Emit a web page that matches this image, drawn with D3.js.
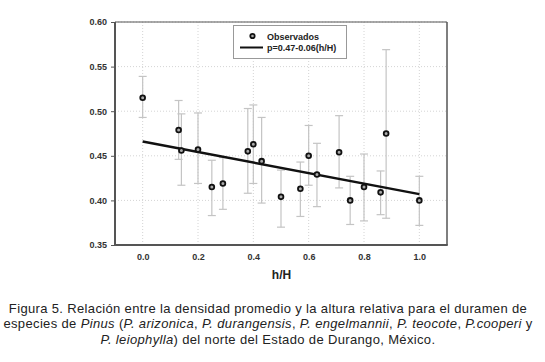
<!DOCTYPE html>
<html>
<head>
<meta charset="utf-8">
<script src="https://cdn.jsdelivr.net/npm/d3@7"></script>
<style>
  body { margin: 0; background: #fff; }
  svg { display: block; font-family: "Liberation Sans", Arial, sans-serif; }
</style>
</head>
<body>
<div id="chart"></div>
<script>
// observed points: relative height, mean density, error bar low / high
const hH = [0.0, 0.13, 0.14, 0.2, 0.25, 0.29, 0.38, 0.40, 0.43, 0.5, 0.57, 0.60, 0.63, 0.71, 0.75, 0.80, 0.86, 0.88, 1.0];
const density = [0.515, 0.479, 0.456, 0.457, 0.415, 0.419, 0.455, 0.463, 0.444, 0.404, 0.413, 0.450, 0.429, 0.454, 0.400, 0.415, 0.409, 0.475, 0.400];
const errLow = [0.493, 0.446, 0.417, 0.419, 0.383, 0.390, 0.408, 0.419, 0.397, 0.370, 0.382, 0.417, 0.393, 0.414, 0.373, 0.377, 0.384, 0.380, 0.372];
const errHigh = [0.539, 0.512, 0.497, 0.498, 0.445, 0.448, 0.503, 0.507, 0.493, 0.434, 0.443, 0.484, 0.464, 0.495, 0.427, 0.452, 0.433, 0.569, 0.427];

// fitted line p = 0.47 - 0.06(h/H), endpoints
const fitX = [0.0, 1.0];
const fitY = [0.466, 0.407];

const xTicks = [0.0, 0.2, 0.4, 0.6, 0.8, 1.0];
const yTicks = [0.35, 0.40, 0.45, 0.50, 0.55, 0.60];

const legendLabels = ["Observados", "p=0.47-0.06(h/H)"];

const dims = { width: 545, height: 362 };
const plot = { left: 115, top: 22, right: 447, bottom: 245 };

const svg = d3.select("#chart").append("svg")
    .attr("width", dims.width)
    .attr("height", dims.height);

const x = d3.scaleLinear().domain([-0.1, 1.1]).range([plot.left, plot.right]);
const y = d3.scaleLinear().domain([0.35, 0.60]).range([plot.bottom, plot.top]);

// grid
const grid = svg.append("g").attr("class", "grid");
grid.selectAll("line.gx")
    .data(xTicks)
    .join("line")
    .attr("class", "gx")
    .attr("x1", d => x(d)).attr("x2", d => x(d))
    .attr("y1", plot.top).attr("y2", plot.bottom)
    .style("stroke", "#d4d4d4")
    .style("stroke-dasharray", "1,2");
grid.selectAll("line.gy")
    .data(yTicks)
    .join("line")
    .attr("class", "gy")
    .attr("x1", plot.left).attr("x2", plot.right)
    .attr("y1", d => y(d)).attr("y2", d => y(d))
    .style("stroke", "#d4d4d4")
    .style("stroke-dasharray", "1,2");

// axes
const xAxis = d3.axisBottom(x).tickValues(xTicks).tickFormat(d3.format(".1f")).tickSize(0).tickPadding(9);
const yAxis = d3.axisLeft(y).tickValues(yTicks).tickFormat(d3.format(".2f")).tickSize(4).tickPadding(4);

const gx = svg.append("g")
    .attr("transform", `translate(0,${plot.bottom})`)
    .call(xAxis);
const gy = svg.append("g")
    .attr("transform", `translate(${plot.left},0)`)
    .call(yAxis);

[gx, gy].forEach(g => {
    g.select(".domain").remove();
    g.selectAll("line").style("stroke", "#555");
    g.selectAll("text")
        .style("font-size", "9px")
        .style("font-weight", "bold")
        .style("fill", "#333");
});

// frame
svg.append("line")
    .attr("x1", plot.left).attr("x2", plot.right)
    .attr("y1", plot.top).attr("y2", plot.top)
    .style("stroke", "#555").style("stroke-width", 1);
svg.append("line")
    .attr("x1", plot.right).attr("x2", plot.right)
    .attr("y1", plot.top).attr("y2", plot.bottom)
    .style("stroke", "#555").style("stroke-width", 1.5);
svg.append("line")
    .attr("x1", plot.left).attr("x2", plot.left)
    .attr("y1", plot.top).attr("y2", plot.bottom + 1)
    .style("stroke", "#555").style("stroke-width", 2);
svg.append("line")
    .attr("x1", plot.left).attr("x2", plot.right + 0.75)
    .attr("y1", plot.bottom).attr("y2", plot.bottom)
    .style("stroke", "#555").style("stroke-width", 2);

const pts = hH.map((h, i) => ({ h: h, p: density[i], lo: errLow[i], hi: errHigh[i] }));

// error bars
const eb = svg.append("g").attr("class", "errorbars")
    .style("stroke", "#c4c4c4").style("stroke-width", 1.2);
eb.selectAll("line.v")
    .data(pts)
    .join("line")
    .attr("class", "v")
    .attr("x1", d => x(d.h)).attr("x2", d => x(d.h))
    .attr("y1", d => y(d.lo)).attr("y2", d => y(d.hi));
eb.selectAll("line.top")
    .data(pts)
    .join("line")
    .attr("class", "top")
    .attr("x1", d => x(d.h) - 4).attr("x2", d => x(d.h) + 4)
    .attr("y1", d => y(d.hi)).attr("y2", d => y(d.hi));
eb.selectAll("line.bot")
    .data(pts)
    .join("line")
    .attr("class", "bot")
    .attr("x1", d => x(d.h) - 4).attr("x2", d => x(d.h) + 4)
    .attr("y1", d => y(d.lo)).attr("y2", d => y(d.lo));

// regression line
const fit = fitX.map((v, i) => ({ h: v, p: fitY[i] }));
svg.append("path")
    .datum(fit)
    .attr("d", d3.line().x(d => x(d.h)).y(d => y(d.p)))
    .style("fill", "none")
    .style("stroke", "#111")
    .style("stroke-width", 2.4);

// points
const marks = svg.append("g").attr("class", "marks");
marks.selectAll("circle.o")
    .data(pts)
    .join("circle")
    .attr("class", "o")
    .attr("cx", d => x(d.h)).attr("cy", d => y(d.p))
    .attr("r", 2.4)
    .style("fill", "#aaa")
    .style("stroke", "#111")
    .style("stroke-width", 1.8);

// x label
svg.append("text")
    .attr("x", 281.5).attr("y", 279)
    .attr("text-anchor", "middle")
    .style("font-size", "12px")
    .style("font-weight", "bold")
    .style("fill", "#222")
    .text("h/H");

// legend
const lg = svg.append("g").attr("class", "legend");
lg.append("rect")
    .attr("x", 233.5).attr("y", 25.5)
    .attr("width", 113).attr("height", 33)
    .style("fill", "#fff")
    .style("stroke", "#999")
    .style("stroke-width", 1);
lg.append("circle")
    .attr("cx", 252.5).attr("cy", 36)
    .attr("r", 2.2)
    .style("fill", "#aaa")
    .style("stroke", "#111")
    .style("stroke-width", 1.8);
lg.append("line")
    .attr("x1", 240).attr("x2", 263)
    .attr("y1", 47.5).attr("y2", 47.5)
    .style("stroke", "#111")
    .style("stroke-width", 2);
lg.selectAll("text")
    .data(legendLabels)
    .join("text")
    .attr("x", 267)
    .attr("y", (d, i) => 39.5 + i * 11.5)
    .style("font-size", "9px")
    .style("font-weight", "bold")
    .style("fill", "#222")
    .text(d => d);

// caption
const caption = [
    [["Figura 5. Relación entre la densidad promedio y la altura relativa para el duramen de", false]],
    [["especies de ", false], ["Pinus", true], [" (", false], ["P. arizonica", true], [", ", false],
     ["P. durangensis", true], [", ", false], ["P. engelmannii", true], [", ", false],
     ["P. teocote", true], [", ", false], ["P.cooperi", true], [" y", false]],
    [["P. leiophylla", true], [") del norte del Estado de Durango, México.", false]]
];
const cap = svg.append("g").attr("class", "caption");
caption.forEach((line, i) => {
    const t = cap.append("text")
        .attr("x", 268)
        .attr("y", 312.5 + i * 15.5)
        .attr("text-anchor", "middle")
        .style("font-size", "13px")
        .style("letter-spacing", "0.35px")
        .style("fill", "#222");
    line.forEach(([s, it]) => {
        t.append("tspan")
            .style("font-style", it ? "italic" : "normal")
            .text(s);
    });
});
</script>
</body>
</html>
